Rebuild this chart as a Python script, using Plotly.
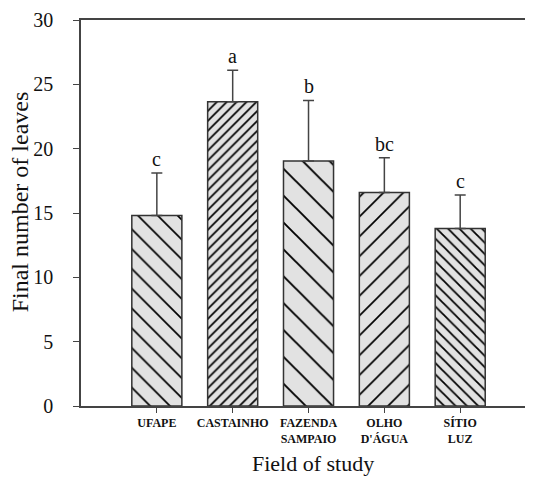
import plotly.graph_objects as go

# ---- data ----
categories = ["UFAPE", "CASTAINHO", "FAZENDA<br>SAMPAIO", "OLHO<br>D'ÁGUA", "SÍTIO<br>LUZ"]
positions = [0, 1, 2, 3, 4]
mean_leaves = [14.8, 23.65, 19.05, 16.6, 13.8]
std_error = [3.3, 2.45, 4.7, 2.7, 2.6]
letters = ["c", "a", "b", "bc", "c"]
y_ticks = [0, 5, 10, 15, 20, 25, 30]

# ---- styles ----
hatch_shapes = ["\\", "/", "\\", "/", "\\"]
hatch_sizes = [14, 7, 19, 14, 8]
hatch_solid = [0.12, 0.24, 0.1, 0.12, 0.22]
serif = "Liberation Serif"

fig = go.Figure()
fig.add_trace(go.Bar(
    x=positions, y=mean_leaves, width=0.66,
    marker=dict(
        color="#e2e2e2",
        line=dict(color="#333333", width=1.5),
        pattern=dict(shape=hatch_shapes, size=hatch_sizes, solidity=hatch_solid,
                     fgcolor="#000000", bgcolor="#e2e2e2", fillmode="replace"),
    ),
    error_y=dict(type="data", array=std_error, arrayminus=[0] * len(std_error),
                 symmetric=False, color="#444444", thickness=1.5, width=5.5),
    showlegend=False,
))

for xp, m, e, t in zip(positions, mean_leaves, std_error, letters):
    fig.add_annotation(x=xp, y=m + e, text=t, showarrow=False, yanchor="bottom",
                       yshift=1, font=dict(family=serif, size=20, color="#111"))

fig.add_annotation(text="Field of study", xref="paper", yref="paper", x=0.513, y=-0.150,
                   showarrow=False, xanchor="center", yanchor="middle",
                   font=dict(family=serif, size=22, color="#111"))
fig.add_annotation(text="Final number of leaves", xref="paper", yref="paper", x=-0.133, y=0.53,
                   showarrow=False, xanchor="center", yanchor="middle", textangle=-90,
                   font=dict(family=serif, size=24, color="#111"))

fig.update_layout(
    width=525, height=471,
    margin=dict(l=73, r=0, t=12, b=73, autoexpand=False),
    paper_bgcolor="white", plot_bgcolor="white",
    xaxis=dict(range=[-1.0, 4.96], tickvals=positions, ticktext=categories,
               showline=True, linecolor="#444", linewidth=1.5, mirror=True,
               ticks="outside", ticklen=5, tickcolor="#444", tickwidth=1.2,
               showgrid=False, zeroline=False,
               tickfont=dict(family=serif, size=12, color="#111", weight="bold")),
    yaxis=dict(range=[0, 30], tickvals=y_ticks,
               showline=True, linecolor="#444", linewidth=1.5, mirror=False,
               ticks="outside", ticklen=6, tickcolor="#444", tickwidth=1.2,
               showgrid=False, zeroline=False, ticklabelstandoff=16,
               tickfont=dict(family=serif, size=20, color="#111")),
)

fig.write_html("out.html")
